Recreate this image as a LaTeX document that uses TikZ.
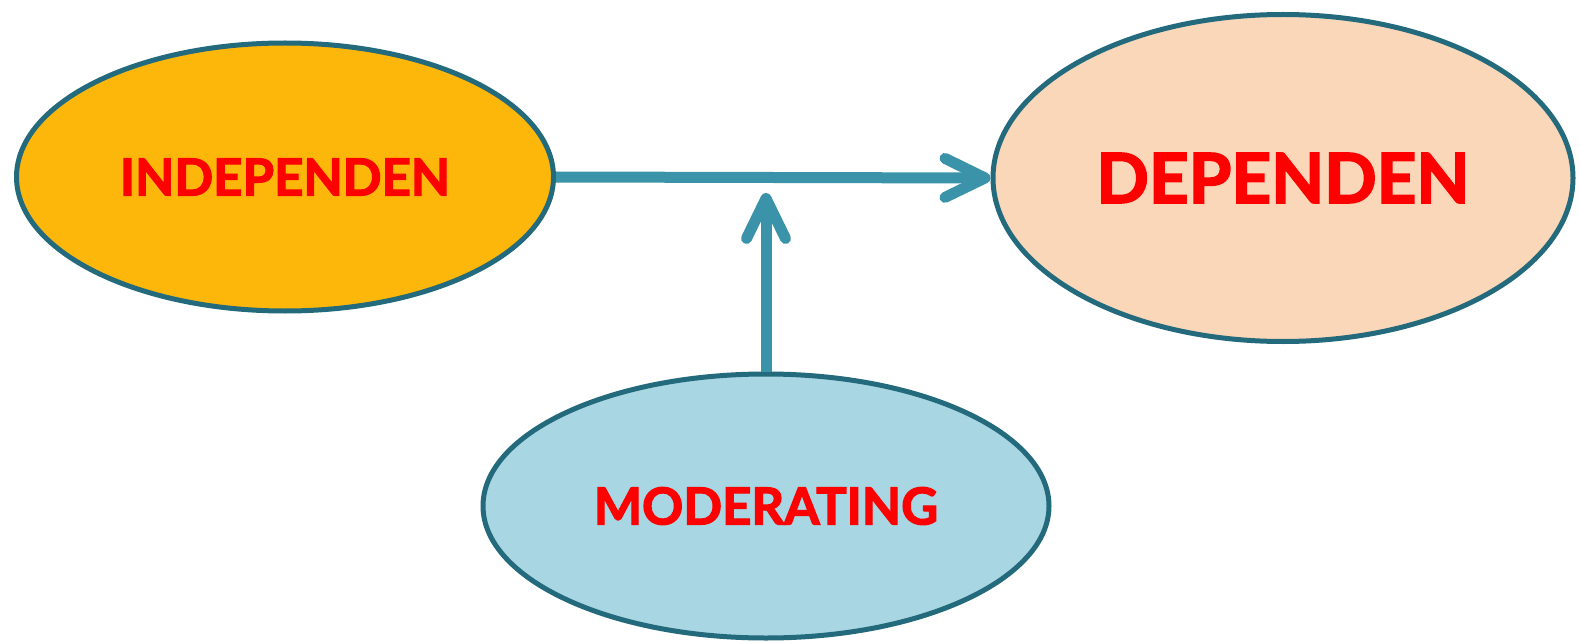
\documentclass[tikz,border=0pt]{standalone}
\usepackage{fontspec}
\setmainfont{Lato}[BoldFeatures={FakeBold=2.5}]
\usepackage{tikz}
\usetikzlibrary{shapes}
\usetikzlibrary{arrows.meta}
\definecolor{rimcol}{HTML}{236A7C}
\definecolor{linkcol}{HTML}{3A93A8}
\definecolor{indfill}{HTML}{FDB70B}
\definecolor{depfill}{HTML}{FBD7B9}
\definecolor{modfill}{HTML}{A8D6E2}
\definecolor{txtcol}{HTML}{FF0000}
\tikzset{
  varbox/.style={ellipse,draw=rimcol,line width=2.5pt,text=txtcol,font=\bfseries,inner sep=0pt},
  link/.style={draw=linkcol,line width=5.5pt,-{Straight Barb[length=20pt,width=19.5pt,round]}}
}
\newcommand{\varnode}{\node[varbox]}
\begin{document}
\begin{tikzpicture}[x=0.5pt,y=-0.5pt]
      \useasboundingbox (0,0) rectangle (1580,642);
      \varnode[fill=indfill,minimum width=268.5pt,minimum height=134pt,font=\bfseries\fontsize{25.5}{27}\selectfont] (indep) at (285,177) {INDEPENDEN}; % independent
      \varnode[fill=depfill,minimum width=290pt,minimum height=163.5pt,font=\bfseries\fontsize{34.5}{36}\selectfont] (dep) at (1283,178) {DEPENDEN}; % dependent
      \varnode[fill=modfill,minimum width=283pt,minimum height=132pt,font=\bfseries\fontsize{25.5}{27}\selectfont] (mod) at (766,506) {MODERATING}; % moderator
      \coordinate (hit) at (766,193); % where the moderator points
      %%%% graph links
      \draw[link] (indep.east) -- (dep.west);
      \draw[link] (mod.north) -- (hit);
\end{tikzpicture}
\end{document}
